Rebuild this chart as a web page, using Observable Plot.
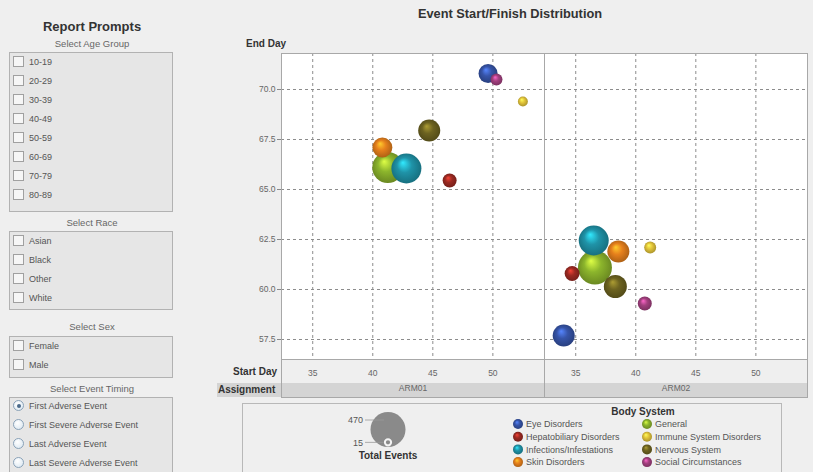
<!DOCTYPE html>
<html><head><meta charset="utf-8">
<script src="https://cdn.jsdelivr.net/npm/d3@7"></script>
<script src="https://cdn.jsdelivr.net/npm/@observablehq/plot@0.6"></script>
<style>
body{margin:0;background:#efefef;font-family:"Liberation Sans",Arial,sans-serif;}
#page{position:relative;width:813px;height:472px;overflow:hidden;background:#efefef;}
.a{position:absolute;white-space:nowrap;}
.hdr{position:absolute;left:9px;width:166px;text-align:center;font-size:9.5px;color:#666;height:12px;line-height:12px;}
.box{position:absolute;left:9px;width:164px;background:#e6e6e6;border:1px solid #b2b2b2;box-sizing:border-box;}
.item{position:absolute;left:13px;font-size:9px;color:#555;height:12px;line-height:12px;white-space:nowrap;}
.cb{display:inline-block;border:1px solid #a0a0a0;background:#f6f6f6;vertical-align:top;margin-right:5px;box-sizing:border-box;width:11px;height:11px;}
.rb{display:inline-block;width:11px;height:11px;border:1px solid #8aa2b8;border-radius:50%;background:radial-gradient(circle at 40% 35%,#ffffff,#d6e4ef);vertical-align:top;margin-right:5px;box-sizing:border-box;position:relative;}
.rb.on::after{content:"";position:absolute;left:2.5px;top:2.5px;width:4px;height:4px;border-radius:50%;background:#4a6a8a;}
.bold{font-weight:bold;color:#333;font-size:10px;}
</style>
</head><body>
<div id="page">
  <svg width="0" height="0" style="position:absolute"><defs id="grads"></defs></svg>
  <div class="a" style="left:9px;width:166px;top:19px;text-align:center;font-size:13px;font-weight:bold;color:#333;">Report Prompts</div>
  <div id="left"></div>
  <div class="a" style="left:210px;width:600px;top:6px;text-align:center;font-size:12.8px;font-weight:bold;color:#333;">Event Start/Finish Distribution</div>
  <div class="a bold" style="left:246px;top:38px;">End Day</div>
  <div class="a" style="left:217px;width:590px;top:383px;height:14px;background:#d4d4d4;"></div>
  <div class="a bold" style="left:210px;width:67px;top:366px;text-align:right;">Start Day</div>
  <div class="a bold" style="left:218px;top:384px;">Assignment</div>
  <div id="chart" class="a" style="left:210px;top:30px;"></div>
  <div class="a" style="left:242px;top:403px;width:540px;height:80px;border:1px solid #b8b8b8;box-sizing:border-box;"></div>
  <div id="legend" class="a" style="left:242px;top:403px;"></div>
</div>
<script>
// ---- data ----
const ageGroups = ["10-19","20-29","30-39","40-49","50-59","60-69","70-79","80-89"];
const races = ["Asian","Black","Other","White"];
const sexes = ["Female","Male"];
const timings = ["First Adverse Event","First Severe Adverse Event","Last Adverse Event","Last Severe Adverse Event"];

const arms = ["ARM01","ARM02"];
const bodySystems = ["Eye Disorders","General","Hepatobiliary Disorders","Immune System Disorders","Infections/Infestations","Nervous System","Skin Disorders","Social Circumstances"];
const bodyColors = ["#3654a8","#8cb52c","#9c2a22","#e2c43a","#1f93a8","#6d6320","#e6801c","#a3407f"];

const startARM01 = [49.6, 41.25, 46.4, 52.5, 42.8, 44.7, 40.8, 50.3];
const endARM01   = [70.8, 66.1, 65.45, 69.4, 66.05, 67.95, 67.1, 70.5];
const eventsARM01 = [139, 369, 75, 38, 345, 186, 153, 55];

const startARM02 = [34.0, 36.6, 34.7, 41.2, 36.5, 38.3, 38.55, 40.75];
const endARM02   = [57.7, 61.1, 60.8, 62.1, 62.45, 60.15, 61.9, 59.3];
const eventsARM02 = [186, 444, 86, 55, 345, 203, 186, 75];

const xTicks = [35, 40, 45, 50];
const yTicks = [57.5, 60, 62.5, 65, 67.5, 70];
const sizeLegendValues = [470, 15];

// ---- left prompts panel ----
const sections = [
  {title:"Select Age Group", items: ageGroups, ty:44, top:52, bottom:212, first:62, step:19},
  {title:"Select Race", items: races, ty:223, top:231, bottom:310, first:241, step:19},
  {title:"Select Sex", items: sexes, ty:327, top:336, bottom:378, first:346, step:18.5},
  {title:"Select Event Timing", items: timings, ty:389, top:397, bottom:490, first:406, step:19, radio:true}
];
const left = document.getElementById("left");
sections.forEach(s => {
  left.insertAdjacentHTML("beforeend", `<div class="hdr" style="top:${s.ty-6}px">${s.title}</div>`);
  left.insertAdjacentHTML("beforeend", `<div class="box" style="top:${s.top}px;height:${s.bottom-s.top}px"></div>`);
  s.items.forEach((it, i) => {
    const y = s.first + i * s.step - 6;
    const mark = s.radio ? `<span class="rb${i===0?" on":""}"></span>` : `<span class="cb"></span>`;
    left.insertAdjacentHTML("beforeend", `<div class="item" style="top:${y}px">${mark}${it}</div>`);
  });
});

// ---- gradients ----
const defs = document.getElementById("grads");
bodyColors.forEach((c, i) => {
  const lite = d3.color(c).brighter(1.3).formatHex();
  const dark = d3.color(c).darker(0.9).formatHex();
  defs.insertAdjacentHTML("beforeend",
    `<radialGradient id="bub${i}" cx="50%" cy="50%" r="55%" fx="38%" fy="30%">
       <stop offset="0%" stop-color="${lite}"/>
       <stop offset="45%" stop-color="${c}"/>
       <stop offset="100%" stop-color="${dark}"/>
     </radialGradient>`);
});

// ---- rows ----
const series = {ARM01: [startARM01, endARM01, eventsARM01], ARM02: [startARM02, endARM02, eventsARM02]};
const rows = [];
arms.forEach(arm => {
  const [s, e, n] = series[arm];
  bodySystems.forEach((b, i) => rows.push({arm, body: b, idx: i, start: s[i], end: e[i], events: n[i]}));
});

const grid = {stroke: "#8c8c8c", strokeOpacity: 1, strokeDasharray: "3,3", strokeWidth: 1};
const chart = Plot.plot({
  width: 603, height: 372,
  marginLeft: 71, marginRight: 6, marginTop: 23, marginBottom: 43,
  style: {background: "transparent", fontFamily: "Liberation Sans, Arial, sans-serif", fontSize: "8.5px", color: "#555"},
  fx: {domain: arms, padding: 0, axis: null},
  x: {domain: [32.4, 54.3]},
  y: {domain: [56.5, 71.8]},
  r: {domain: [0, 470], range: [0, 17.5]},
  color: {type: "identity"},
  marks: [
    Plot.frame({fill: "white", stroke: null}),
    Plot.gridX({ticks: xTicks, ...grid}),
    Plot.gridY({ticks: yTicks, ...grid}),
    Plot.dot(rows, {fx: "arm", x: "start", y: "end", r: "events", fill: d => `url(#bub${d.idx})`, stroke: null}),
    Plot.frame({stroke: "#a8a8a8"}),
    Plot.frame({stroke: "#a8a8a8", insetBottom: -38}),
    Plot.axisX({ticks: xTicks, tickSize: 0, tickPadding: 10, label: null, tickFormat: d => String(d), fill: "#666"}),
    Plot.axisY({ticks: yTicks, tickSize: 4, tickPadding: 2, label: null, tickFormat: d3.format(".1f"), stroke: "#888", fill: "#666"}),
    Plot.text(arms, {fx: d => d, text: d => d, frameAnchor: "bottom", dy: 31, fill: "#666", fontSize: 8.5})
  ]
});
document.getElementById("chart").appendChild(chart);

// ---- legend ----
const rScale = chart.scale("r");
const lg = d3.select("#legend").append("svg").attr("width", 540).attr("height", 69)
  .style("font-family", "Liberation Sans, Arial, sans-serif");
const cx = 146, baseY = 44;
sizeLegendValues.forEach((v, i) => {
  const r = rScale.apply(v);
  const cy = baseY - r - (i === 0 ? 0 : 1.5);
  lg.append("circle").attr("cx", cx).attr("cy", cy).attr("r", r)
    .attr("fill", "#8a8a8a").attr("stroke", i === 0 ? "none" : "#f4f4f4").attr("stroke-width", 2);
  const ly = i === 0 ? 17 : cy;
  lg.append("line").attr("x1", 123).attr("x2", cx - (i === 0 ? 4 : r + 1)).attr("y1", ly).attr("y2", ly)
    .attr("stroke", "#999").attr("stroke-width", 0.8);
  lg.append("text").attr("x", 121).attr("y", ly).attr("dy", "0.35em").attr("text-anchor", "end")
    .attr("font-size", 9).attr("fill", "#555").text(v);
});
lg.append("text").attr("x", cx).attr("y", 52).attr("dy", "0.35em").attr("text-anchor", "middle")
  .attr("font-size", 10).attr("font-weight", "bold").attr("fill", "#333").text("Total Events");
lg.append("text").attr("x", 401).attr("y", 8).attr("dy", "0.35em").attr("text-anchor", "middle")
  .attr("font-size", 10).attr("font-weight", "bold").attr("fill", "#333").text("Body System");
bodySystems.forEach((b, i) => {
  const col = i % 2, row = Math.floor(i / 2);
  const x = col === 0 ? 276 : 405, y = 21 + row * 12.7;
  lg.append("circle").attr("cx", x).attr("cy", y).attr("r", 5).attr("fill", `url(#bub${i})`);
  lg.append("text").attr("x", x + 8).attr("y", y).attr("dy", "0.35em").attr("font-size", 9).attr("fill", "#555").text(b);
});
</script>
</body></html>
